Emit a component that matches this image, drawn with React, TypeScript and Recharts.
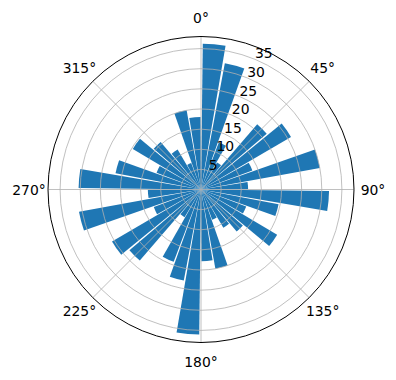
import {
  PolarAngleAxis,
  PolarGrid,
  PolarRadiusAxis,
  RadialBar,
  RadialBarChart,
} from "recharts";

const directions = [
  5, 15, 25, 35, 45, 55, 65, 75, 85, 95, 105, 115, 125, 135, 145, 155, 165,
  175, 185, 195, 205, 215, 225, 235, 245, 255, 265, 275, 285, 295, 305, 315,
  325, 335, 345, 355,
];
const counts = [
  36.2, 31.9, 12.5, 7.8, 21.4, 25.9, 13.6, 30, 11.7, 31.8, 19.6, 12, 22, 13.7,
  11, 8, 20, 17.8, 36, 23, 19.2, 8, 23.3, 25.6, 12.5, 30.8, 13.2, 30.4, 21.6,
  11.8, 19.7, 15.5, 11.5, 7, 20, 18,
];
const angleTicks = [0, 45, 90, 135, 180, 225, 270, 315];
const radiusTicks = [5, 10, 15, 20, 25, 30, 35];

const data = directions.map((dir, i) => ({ dir, count: counts[i] }));

const FONT = "'DejaVu Sans', sans-serif";
const W = 396;
const H = 380;
const CX = 201;
const CY = 189.5;
const OUTER = 153;
const R_MAX = 38;

function AngleTick(props: any) {
  const { x, y, payload } = props;
  return (
    <text
      x={x}
      y={y}
      textAnchor="middle"
      dominantBaseline="central"
      fontSize={13.9}
      fontFamily={FONT}
      fill="#000"
    >
      {`${payload.value}°`}
    </text>
  );
}

function RadiusTick(props: any) {
  const { x, y, payload } = props;
  return (
    <text
      x={x}
      y={y - 1}
      textAnchor="start"
      fontSize={13.9}
      fontFamily={FONT}
      fill="#000"
    >
      {payload.value}
    </text>
  );
}

const layer: React.CSSProperties = { position: "absolute", left: 0, top: 0 };

export default function App() {
  return (
    <div style={{ ...layer, width: W, height: H, background: "#fff" }}>
      {/* bars: the category band starts one step early, hence 80 / -280 */}
      <div style={layer}>
        <RadialBarChart
          width={W}
          height={H}
          data={data}
          layout="centric"
          cx={CX}
          cy={CY}
          innerRadius={0}
          outerRadius={OUTER}
          startAngle={80}
          endAngle={-280}
          barCategoryGap="3%"
          margin={{ top: 0, right: 0, bottom: 0, left: 0 }}
        >
          <PolarAngleAxis
            dataKey="dir"
            type="category"
            axisLine={false}
            tickLine={false}
            tick={false}
          />
          <PolarRadiusAxis
            type="number"
            domain={[0, R_MAX]}
            axisLine={false}
            tickLine={false}
            tick={false}
          />
          <RadialBar
            dataKey="count"
            fill="#1f77b4"
            isAnimationActive={false}
          />
        </RadialBarChart>
      </div>
      {/* grid, spine and labels over the bars, as matplotlib draws them */}
      <div style={layer}>
        <RadialBarChart
          width={W}
          height={H}
          data={data}
          layout="centric"
          cx={CX}
          cy={CY}
          innerRadius={0}
          outerRadius={OUTER}
          startAngle={90}
          endAngle={-270}
          margin={{ top: 0, right: 0, bottom: 0, left: 0 }}
        >
          <PolarAngleAxis
            dataKey="dir"
            type="number"
            domain={[0, 360]}
            ticks={angleTicks}
            allowDataOverflow
            axisLine={false}
            tickLine={false}
            tickSize={19}
            tick={<AngleTick />}
          />
          <PolarRadiusAxis
            type="number"
            domain={[0, R_MAX]}
            ticks={radiusTicks}
            angle={67.5}
            axisLine={false}
            tickLine={false}
            tick={<RadiusTick />}
          />
          <RadialBar
            dataKey="count"
            fill="none"
            fillOpacity={0}
            isAnimationActive={false}
          />
          <PolarGrid gridType="circle" stroke="#b0b0b0" strokeWidth={0.8} />
          <PolarGrid
            gridType="circle"
            radialLines={false}
            polarRadius={[OUTER]}
            stroke="#000"
            strokeWidth={1}
          />
        </RadialBarChart>
      </div>
    </div>
  );
}
